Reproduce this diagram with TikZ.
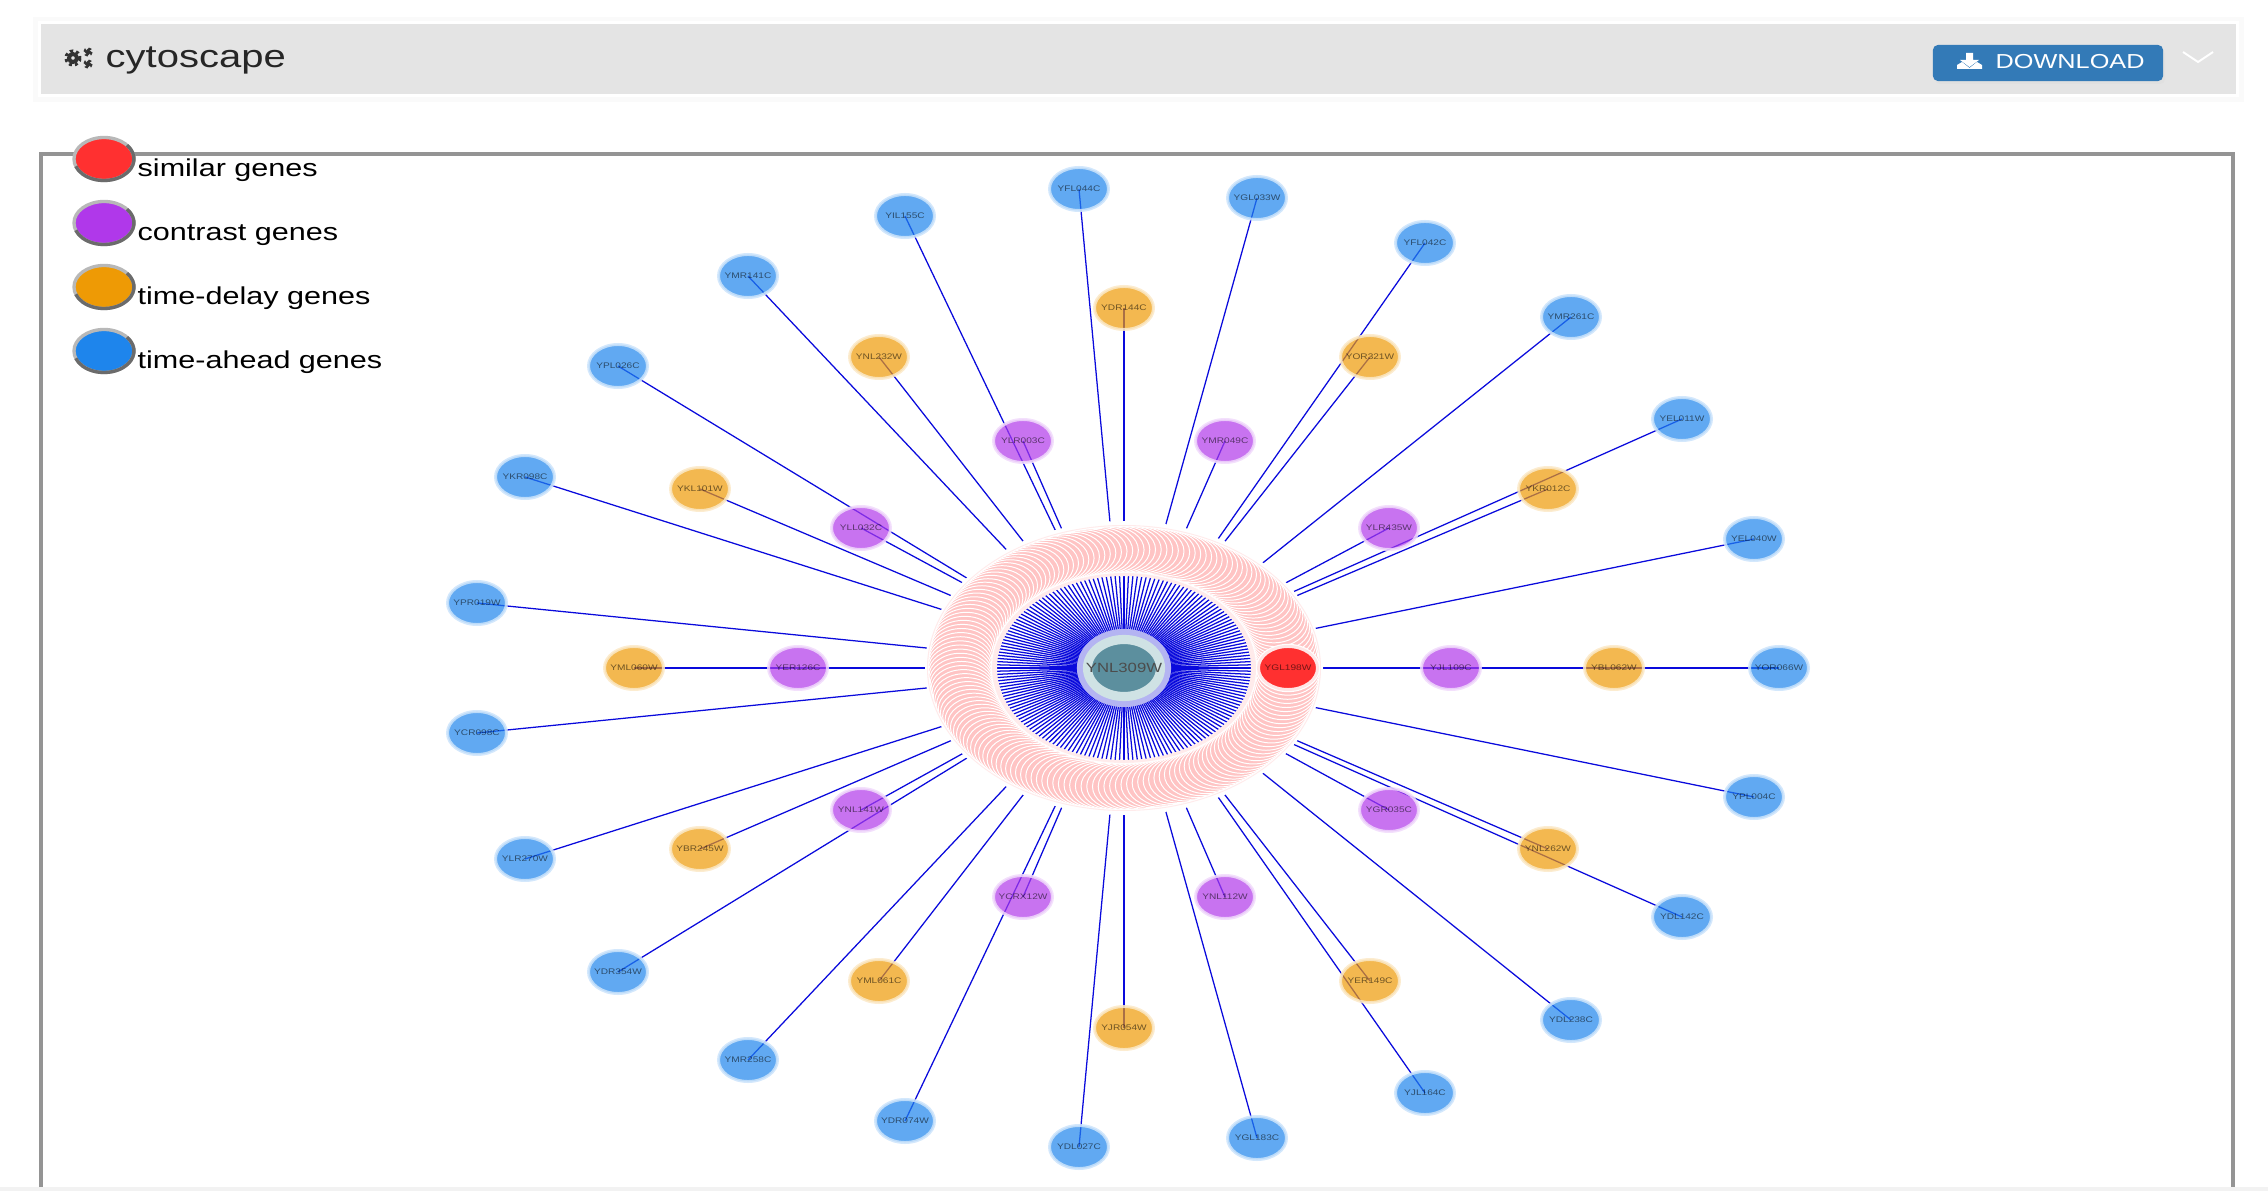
\documentclass[tikz,border=0pt]{standalone}
\usepackage{fontspec}
\setmainfont[FakeStretch=1.25]{Liberation Sans}
\usetikzlibrary{shapes.geometric}
\pgfdeclarelayer{edgelayer}
\pgfdeclarelayer{innerlayer}
\pgfsetlayers{edgelayer,innerlayer,main}
\definecolor{simred}{HTML}{FF3030}
\definecolor{conpurple}{HTML}{B038EA}
\definecolor{delorange}{HTML}{EE9A05}
\definecolor{aheadblue}{HTML}{1E85EC}
\definecolor{linkblue}{HTML}{0A0ADC}
\definecolor{ringpink}{HTML}{FFC4C4}
\definecolor{ringfade}{HTML}{FFEBEB}
\definecolor{barbg}{HTML}{E4E4E4}
\definecolor{btnblue}{HTML}{337AB7}
\definecolor{HubTeal}{HTML}{5C8F9E}
\definecolor{HubPale}{HTML}{CFE2E4}
\definecolor{HubLilac}{HTML}{B4B4F2}
\tikzset{
    gene/.style={ellipse,minimum width=.59cm,minimum height=.43cm,inner sep=-1.5pt,line width=.85pt,
        fill opacity=.7,draw opacity=.85,text opacity=.55,font=\fontsize{2.3}{3}\selectfont},
    ahead/.style={gene,fill=aheadblue,draw=aheadblue!22},
    delay/.style={gene,fill=delorange,draw=delorange!22},
    contrast/.style={gene,fill=conpurple,draw=conpurple!18},
    similar/.style={gene,fill=simred,draw=simred!12,fill opacity=1,draw opacity=1,preaction={draw=white,line width=1.5pt}},
    ringgene/.style={ellipse,minimum width=.63cm,minimum height=.46cm,inner sep=0pt,fill=ringpink,draw=white,line width=.28pt},
    hubgene/.style={ellipse,minimum width=.73cm,minimum height=.57cm,inner sep=-5pt,fill=HubTeal,draw=HubPale,line width=2.6pt,
        preaction={draw=HubLilac,line width=6pt},text=black!70,font=\fontsize{3.8}{4}\selectfont},
    link/.style={linkblue,line width=.36pt},
    spoke/.style={linkblue,line width=.36pt},
    legdot/.style={ellipse,minimum width=.6cm,minimum height=.43cm,inner sep=0pt,draw=black!28,line width=.95pt},
    legtext/.style={anchor=base west,font=\fontsize{6.95}{9}\selectfont,inner sep=0pt},
}
\begin{document}
\begin{tikzpicture}[x=.01cm,y=-.01cm]
    \useasboundingbox (0,0) rectangle (2268,1191);
    \fill[black!2] (33,17) rectangle (2244,102);
    \fill[white] (38,21) rectangle (2239,97);
    \fill[barbg] (41,24) rectangle (2236,94);
    \fill[black!5] (0,1187) rectangle (2268,1191);
    \draw[black!42,line width=1pt] (41,1187) -- (41,154) -- (2233,154) -- (2233,1187);
    \foreach \gx/\gy/\gr/\gs/\gw in {73/58/4/2.6/1.1,88/52/1.9/1.7/.6,88/64/1.9/1.7/.6} {
        \draw[black!80,line width=\gw pt] (\gx,\gy) circle[radius=\gr];
        \draw[black!80,line width=\gw pt,dash pattern=on .8pt off .8pt] (\gx,\gy) circle[radius=\gr+\gs];
    }
    \node[anchor=base west,inner sep=0pt,font=\fontsize{9.1}{11}\selectfont,text=black!85] (title) at (105,68) {cytoscape};
    \fill[black!12] (1935,49) [rounded corners=1.4pt] rectangle (2165,84);
    \node[rectangle,rounded corners=1.4pt,fill=btnblue,minimum width=2.3cm,minimum height=.36cm,inner sep=0pt] (btn) at (2048,63) {};
    \node[anchor=base west,inner sep=0pt,text=white,font=\fontsize{5.75}{7}\selectfont] (btntext) at (1995,68.5) {DOWNLOAD};
    \fill[white] (1966,53) -- (1973,53) -- (1973,60) -- (1979,60) -- (1969.5,67) -- (1960,60) -- (1966,60) -- cycle;
    \fill[white] (1957,69) -- (1957,65) -- (1962,62) -- (1969.5,68) -- (1977,62) -- (1982,65) -- (1982,69) -- cycle;
    \draw[white,line width=.55pt] (2183,52) -- (2198,62) -- (2213,52);
    % legend
    \foreach \n/\col/\txt/\ly in {1/simred/similar genes/159,2/conpurple/contrast genes/223,3/delorange/time-delay genes/287,4/aheadblue/time-ahead genes/351} {
        \node[legdot,fill=\col] (leg\n) at (104,\ly) {};
        \draw[black!58,line width=.95pt] ({104+30*cos(40)},{\ly-21.5*sin(40)}) arc[start angle=-40,end angle=160,x radius=30,y radius=21.5];
        \node[legtext] (legtext\n) at (137,\ly+17.5) {\txt};
    }
    % pink ring
    \foreach \a in {2,4,...,358} {
        \node[ringgene] (r\a) at ({1124+164*cos(\a)},{668-118.5*sin(\a)}) {};
    }
    \node[similar,alias=r0] (YGL198W) at (1288,668) {YGL198W};
    \node[hubgene] (YNL309W) at (1124,668) {YNL309W};
    % outer genes
    \foreach \name/\px/\py in {YFL044C/1079/189,YIL155C/905/216,YMR141C/748/276,YPL026C/618/366,YKR098C/525/477,YPR019W/477/603,
        YCR098C/477/733,YLR270W/525/859,YDR354W/618/972,YMR258C/748/1060,YDR074W/905/1121,YDL027C/1079/1147,YGL183C/1257/1138,
        YJL164C/1425/1093,YDL238C/1571/1020,YDL142C/1682/917,YPL004C/1754/797,YOR066W/1779/668,YEL040W/1754/539,YEL011W/1682/419,
        YMR261C/1571/317,YFL042C/1425/243,YGL033W/1257/198} {
        \node[ahead] (\name) at (\px,\py) {\name};
    }
    \foreach \name/\px/\py in {YDR144C/1124/308,YNL232W/879/357,YKL101W/700/489,YML060W/634/668,YBR245W/700/849,YML061C/879/981,
        YJR054W/1124/1028,YER149C/1370/981,YNL262W/1548/849,YBL062W/1614/668,YKR012C/1548/489,YOR321W/1370/357} {
        \node[delay] (\name) at (\px,\py) {\name};
    }
    \foreach \name/\px/\py in {YMR049C/1225/441,YLR003C/1023/441,YLL032C/861/528,YER126C/798/668,YNL141W/861/810,YCRX12W/1023/897,
        YNL112W/1225/897,YGR035C/1389/810,YJL109C/1451/668,YLR435W/1389/528} {
        \node[contrast] (\name) at (\px,\py) {\name};
    }
    % links, under the ring
    \begin{pgfonlayer}{edgelayer}
        \foreach \name/\k in {YJL109C/0,YEL040W/16,YKR012C/30,YEL011W/32,YLR435W/36,YMR261C/46,YOR321W/60,YFL042C/62,
            YMR049C/72,YGL033W/78,YDR144C/90,YFL044C/94,YLR003C/108,YIL155C/110,YNL232W/120,YMR141C/126,YPL026C/142,YLL032C/144,
            YKL101W/150,YKR098C/156,YPR019W/172,YER126C/180,YCR098C/188,YLR270W/204,YBR245W/210,YNL141W/216,YDR354W/218,
            YMR258C/234,YML061C/240,YDR074W/250,YCRX12W/252,YDL027C/266,YJR054W/270,YGL183C/282,YNL112W/288,YJL164C/298,YER149C/300,
            YDL238C/314,YGR035C/324,YDL142C/328,YNL262W/330,YPL004C/344} {
            \draw[link] (r\k.center) -- (\name.center);
        }
        \foreach \from/\to in {YJL109C/YBL062W,YBL062W/YOR066W,YER126C/YML060W} {
            \draw[link] (\from.center) -- (\to.center);
        }
    \end{pgfonlayer}
    \begin{pgfonlayer}{innerlayer}
        \fill[white] (1124,668) ellipse[x radius=199,y radius=147];
        \draw[spoke] (YNL309W.center) -- (YGL198W.center);
        \foreach \a in {2,4,...,358} {
            \draw[spoke] (YNL309W.center) -- (r\a.center);
        }
        \fill[ringfade,even odd rule] (1124,668) ellipse[x radius=197,y radius=143] (1124,668) ellipse[x radius=127,y radius=92];
    \end{pgfonlayer}
\end{tikzpicture}
\end{document}
